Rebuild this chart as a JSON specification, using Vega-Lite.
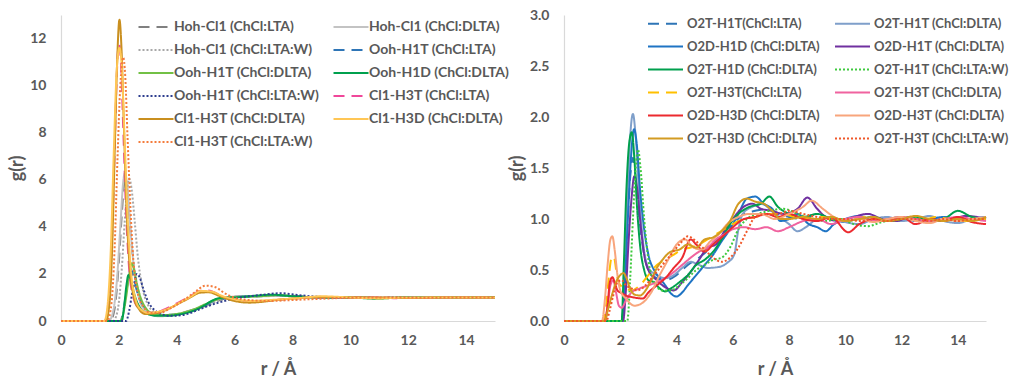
{
  "$schema": "https://vega.github.io/schema/vega-lite/v6.json",
  "padding": {"left": 8, "top": 8, "right": 0, "bottom": 0},
  "config": {
    "view": {"stroke": null},
    "font": "Lato",
    "axis": {"domainColor": "#d9d9d9", "domainWidth": 1.2, "ticks": false, "grid": false,
      "labelFont": "Lato", "labelFontWeight": "bold", "labelFontSize": 14, "labelColor": "#595959",
      "titleFont": "Lato", "titleFontWeight": "bold", "titleFontSize": 18, "titleColor": "#595959"},
    "axisX": {"labelPadding": 12, "titlePadding": 13, "labelFlush": false},
    "axisY": {"labelPadding": 15, "titlePadding": 3},
    "legend": {"orient": "none", "columns": 2, "direction": "horizontal", "title": null, "labelFont": "Lato", "labelFontWeight": "bold",
      "labelFontSize": 14, "labelColor": "#595959", "symbolType": "M-3.5,0H3.5", "symbolSize": 100,
      "symbolStrokeWidth": 2, "labelOffset": 11, "rowPadding": 9, "columnPadding": 9, "labelLimit": 300}
  },
  "datasets": {
    "names": [
      {"s": "l1", "name": "Hoh-Cl1 (ChCl:LTA)"}, {"s": "l2", "name": "Hoh-Cl1 (ChCl:DLTA)"},
      {"s": "l3", "name": "Hoh-Cl1 (ChCl:LTA:W)"}, {"s": "l4", "name": "Ooh-H1T (ChCl:LTA)"},
      {"s": "l5", "name": "Ooh-H1T (ChCl:DLTA)"}, {"s": "l6", "name": "Ooh-H1D (ChCl:DLTA)"},
      {"s": "l7", "name": "Ooh-H1T (ChCl:LTA:W)"}, {"s": "l8", "name": "Cl1-H3T (ChCl:LTA)"},
      {"s": "l9", "name": "Cl1-H3T (ChCl:DLTA)"}, {"s": "l10", "name": "Cl1-H3D (ChCl:DLTA)"},
      {"s": "l11", "name": "Cl1-H3T (ChCl:LTA:W)"},
      {"s": "r1", "name": "O2T-H1T(ChCl:LTA)"}, {"s": "r2", "name": "O2T-H1T (ChCl:DLTA)"},
      {"s": "r3", "name": "O2D-H1D (ChCl:DLTA)"}, {"s": "r4", "name": "O2D-H1T (ChCl:DLTA)"},
      {"s": "r5", "name": "O2T-H1D (ChCl:DLTA)"}, {"s": "r6", "name": "O2T-H1T (ChCl:LTA:W)"},
      {"s": "r7", "name": "O2T-H3T(ChCl:LTA)"}, {"s": "r8", "name": "O2T-H3T (ChCl:DLTA)"},
      {"s": "r9", "name": "O2D-H3D (ChCl:DLTA)"}, {"s": "r10", "name": "O2D-H3T (ChCl:DLTA)"},
      {"s": "r11", "name": "O2T-H3D (ChCl:DLTA)"}, {"s": "r12", "name": "O2T-H3T (ChCl:LTA:W)"}
    ],
    "left": [
      {"s":"l1","r":0,"g":0},{"s":"l1","r":1.7,"g":0},{"s":"l1","r":1.85,"g":0.5},{"s":"l1","r":2.0,"g":2.5},{"s":"l1","r":2.1,"g":4.5},{"s":"l1","r":2.2,"g":5.9},{"s":"l1","r":2.28,"g":5.6},{"s":"l1","r":2.4,"g":3.8},{"s":"l1","r":2.55,"g":2.0},{"s":"l1","r":2.7,"g":1.0},{"s":"l1","r":2.9,"g":0.5},{"s":"l1","r":3.1,"g":0.3},{"s":"l1","r":3.4,"g":0.22},{"s":"l1","r":3.8,"g":0.25},{"s":"l1","r":4.2,"g":0.35},{"s":"l1","r":4.6,"g":0.5},{"s":"l1","r":5.0,"g":0.65},{"s":"l1","r":5.4,"g":0.85},{"s":"l1","r":5.8,"g":1.0},{"s":"l1","r":6.2,"g":1.05},{"s":"l1","r":6.8,"g":1.05},{"s":"l1","r":7.4,"g":1.08},{"s":"l1","r":8,"g":1.05},{"s":"l1","r":9,"g":1.0},{"s":"l1","r":10,"g":1.0},{"s":"l1","r":11,"g":0.98},{"s":"l1","r":12,"g":1.0},{"s":"l1","r":13,"g":1.0},{"s":"l1","r":14,"g":1.0},{"s":"l1","r":15,"g":1.0},
      {"s":"l2","r":0,"g":0},{"s":"l2","r":1.65,"g":0},{"s":"l2","r":1.8,"g":0.4},{"s":"l2","r":1.95,"g":2.0},{"s":"l2","r":2.05,"g":4.0},{"s":"l2","r":2.15,"g":5.9},{"s":"l2","r":2.21,"g":6.3},{"s":"l2","r":2.3,"g":5.6},{"s":"l2","r":2.42,"g":3.6},{"s":"l2","r":2.55,"g":1.9},{"s":"l2","r":2.7,"g":0.95},{"s":"l2","r":2.9,"g":0.45},{"s":"l2","r":3.1,"g":0.28},{"s":"l2","r":3.4,"g":0.2},{"s":"l2","r":3.8,"g":0.24},{"s":"l2","r":4.2,"g":0.33},{"s":"l2","r":4.6,"g":0.5},{"s":"l2","r":5.0,"g":0.7},{"s":"l2","r":5.4,"g":0.9},{"s":"l2","r":5.8,"g":1.02},{"s":"l2","r":6.3,"g":1.05},{"s":"l2","r":7,"g":1.05},{"s":"l2","r":7.5,"g":1.07},{"s":"l2","r":8,"g":1.05},{"s":"l2","r":9,"g":1.0},{"s":"l2","r":10,"g":1.0},{"s":"l2","r":11,"g":0.99},{"s":"l2","r":12,"g":1.0},{"s":"l2","r":13,"g":1.0},{"s":"l2","r":14,"g":1.0},{"s":"l2","r":15,"g":1.0},
      {"s":"l3","r":0,"g":0},{"s":"l3","r":1.8,"g":0},{"s":"l3","r":1.95,"g":0.4},{"s":"l3","r":2.1,"g":2.2},{"s":"l3","r":2.2,"g":4.2},{"s":"l3","r":2.3,"g":5.7},{"s":"l3","r":2.36,"g":6.05},{"s":"l3","r":2.45,"g":5.5},{"s":"l3","r":2.55,"g":4.2},{"s":"l3","r":2.65,"g":2.8},{"s":"l3","r":2.8,"g":1.5},{"s":"l3","r":3.0,"g":0.7},{"s":"l3","r":3.2,"g":0.4},{"s":"l3","r":3.5,"g":0.25},{"s":"l3","r":3.9,"g":0.25},{"s":"l3","r":4.3,"g":0.35},{"s":"l3","r":4.7,"g":0.5},{"s":"l3","r":5.1,"g":0.68},{"s":"l3","r":5.5,"g":0.88},{"s":"l3","r":5.9,"g":1.0},{"s":"l3","r":6.4,"g":1.05},{"s":"l3","r":7,"g":1.06},{"s":"l3","r":7.6,"g":1.08},{"s":"l3","r":8.2,"g":1.04},{"s":"l3","r":9,"g":1.0},{"s":"l3","r":10,"g":1.0},{"s":"l3","r":11,"g":1.0},{"s":"l3","r":12,"g":1.0},{"s":"l3","r":13,"g":1.0},{"s":"l3","r":14,"g":1.0},{"s":"l3","r":15,"g":1.0},
      {"s":"l4","r":0,"g":0},{"s":"l4","r":2.05,"g":0},{"s":"l4","r":2.15,"g":0.4},{"s":"l4","r":2.25,"g":1.2},{"s":"l4","r":2.35,"g":1.9},{"s":"l4","r":2.42,"g":2.2},{"s":"l4","r":2.5,"g":1.9},{"s":"l4","r":2.62,"g":1.3},{"s":"l4","r":2.8,"g":0.75},{"s":"l4","r":3.0,"g":0.45},{"s":"l4","r":3.3,"g":0.3},{"s":"l4","r":3.7,"g":0.26},{"s":"l4","r":4.1,"g":0.3},{"s":"l4","r":4.5,"g":0.42},{"s":"l4","r":4.9,"g":0.62},{"s":"l4","r":5.3,"g":0.85},{"s":"l4","r":5.7,"g":0.98},{"s":"l4","r":6.2,"g":1.03},{"s":"l4","r":6.8,"g":1.05},{"s":"l4","r":7.4,"g":1.1},{"s":"l4","r":8,"g":1.07},{"s":"l4","r":9,"g":1.0},{"s":"l4","r":10,"g":1.0},{"s":"l4","r":11,"g":0.98},{"s":"l4","r":12,"g":1.0},{"s":"l4","r":13,"g":0.99},{"s":"l4","r":14,"g":1.0},{"s":"l4","r":15,"g":1.0},
      {"s":"l5","r":0,"g":0},{"s":"l5","r":2.05,"g":0},{"s":"l5","r":2.15,"g":0.3},{"s":"l5","r":2.25,"g":1.0},{"s":"l5","r":2.35,"g":1.9},{"s":"l5","r":2.44,"g":2.45},{"s":"l5","r":2.52,"g":2.2},{"s":"l5","r":2.62,"g":1.6},{"s":"l5","r":2.75,"g":1.0},{"s":"l5","r":2.9,"g":0.6},{"s":"l5","r":3.1,"g":0.35},{"s":"l5","r":3.4,"g":0.25},{"s":"l5","r":3.8,"g":0.27},{"s":"l5","r":4.2,"g":0.35},{"s":"l5","r":4.6,"g":0.5},{"s":"l5","r":5.0,"g":0.72},{"s":"l5","r":5.4,"g":0.92},{"s":"l5","r":5.8,"g":1.0},{"s":"l5","r":6.3,"g":1.02},{"s":"l5","r":7,"g":1.06},{"s":"l5","r":7.5,"g":1.1},{"s":"l5","r":8,"g":1.06},{"s":"l5","r":9,"g":1.0},{"s":"l5","r":10,"g":1.02},{"s":"l5","r":11,"g":0.97},{"s":"l5","r":12,"g":1.0},{"s":"l5","r":13,"g":1.0},{"s":"l5","r":14,"g":1.0},{"s":"l5","r":15,"g":1.0},
      {"s":"l6","r":0,"g":0},{"s":"l6","r":2.1,"g":0},{"s":"l6","r":2.18,"g":0.6},{"s":"l6","r":2.26,"g":1.5},{"s":"l6","r":2.33,"g":1.95},{"s":"l6","r":2.42,"g":1.7},{"s":"l6","r":2.52,"g":1.2},{"s":"l6","r":2.65,"g":0.75},{"s":"l6","r":2.8,"g":0.45},{"s":"l6","r":3.0,"g":0.3},{"s":"l6","r":3.3,"g":0.22},{"s":"l6","r":3.7,"g":0.22},{"s":"l6","r":4.1,"g":0.28},{"s":"l6","r":4.5,"g":0.4},{"s":"l6","r":4.9,"g":0.62},{"s":"l6","r":5.2,"g":0.85},{"s":"l6","r":5.5,"g":0.98},{"s":"l6","r":6.0,"g":1.0},{"s":"l6","r":6.5,"g":1.05},{"s":"l6","r":7.0,"g":1.1},{"s":"l6","r":7.3,"g":1.12},{"s":"l6","r":7.8,"g":1.07},{"s":"l6","r":8.5,"g":1.02},{"s":"l6","r":9,"g":1.0},{"s":"l6","r":10,"g":1.0},{"s":"l6","r":10.8,"g":0.95},{"s":"l6","r":11.5,"g":0.98},{"s":"l6","r":12,"g":1.0},{"s":"l6","r":13,"g":1.0},{"s":"l6","r":14,"g":1.0},{"s":"l6","r":15,"g":1.02},
      {"s":"l7","r":0,"g":0},{"s":"l7","r":2.25,"g":0},{"s":"l7","r":2.35,"g":0.4},{"s":"l7","r":2.45,"g":1.1},{"s":"l7","r":2.55,"g":1.7},{"s":"l7","r":2.62,"g":2.0},{"s":"l7","r":2.72,"g":1.85},{"s":"l7","r":2.85,"g":1.35},{"s":"l7","r":3.0,"g":0.85},{"s":"l7","r":3.2,"g":0.5},{"s":"l7","r":3.45,"g":0.3},{"s":"l7","r":3.8,"g":0.22},{"s":"l7","r":4.2,"g":0.25},{"s":"l7","r":4.6,"g":0.4},{"s":"l7","r":5.0,"g":0.6},{"s":"l7","r":5.5,"g":0.8},{"s":"l7","r":6.0,"g":0.95},{"s":"l7","r":6.5,"g":1.05},{"s":"l7","r":7,"g":1.12},{"s":"l7","r":7.6,"g":1.18},{"s":"l7","r":8.2,"g":1.1},{"s":"l7","r":9,"g":1.02},{"s":"l7","r":10,"g":0.98},{"s":"l7","r":11,"g":0.98},{"s":"l7","r":12,"g":1.0},{"s":"l7","r":13,"g":0.98},{"s":"l7","r":14,"g":1.0},{"s":"l7","r":15,"g":1.0},
      {"s":"l8","r":0,"g":0},{"s":"l8","r":1.5,"g":0},{"s":"l8","r":1.65,"g":0.8},{"s":"l8","r":1.75,"g":3.0},{"s":"l8","r":1.85,"g":7.0},{"s":"l8","r":1.93,"g":10.5},{"s":"l8","r":2.0,"g":11.8},{"s":"l8","r":2.07,"g":11.0},{"s":"l8","r":2.15,"g":8.2},{"s":"l8","r":2.25,"g":4.6},{"s":"l8","r":2.35,"g":2.3},{"s":"l8","r":2.5,"g":1.0},{"s":"l8","r":2.7,"g":0.5},{"s":"l8","r":2.9,"g":0.35},{"s":"l8","r":3.2,"g":0.35},{"s":"l8","r":3.6,"g":0.5},{"s":"l8","r":4.0,"g":0.75},{"s":"l8","r":4.4,"g":1.0},{"s":"l8","r":4.8,"g":1.28},{"s":"l8","r":5.1,"g":1.3},{"s":"l8","r":5.4,"g":1.15},{"s":"l8","r":5.8,"g":0.95},{"s":"l8","r":6.2,"g":0.85},{"s":"l8","r":6.6,"g":0.82},{"s":"l8","r":7.0,"g":0.85},{"s":"l8","r":7.5,"g":0.9},{"s":"l8","r":8,"g":0.95},{"s":"l8","r":9,"g":1.0},{"s":"l8","r":10,"g":1.0},{"s":"l8","r":11,"g":1.0},{"s":"l8","r":11.5,"g":0.97},{"s":"l8","r":12,"g":0.98},{"s":"l8","r":13,"g":1.0},{"s":"l8","r":14,"g":1.0},{"s":"l8","r":15,"g":1.0},
      {"s":"l9","r":0,"g":0},{"s":"l9","r":1.55,"g":0},{"s":"l9","r":1.68,"g":0.8},{"s":"l9","r":1.77,"g":3.2},{"s":"l9","r":1.86,"g":7.4},{"s":"l9","r":1.94,"g":11.0},{"s":"l9","r":2.02,"g":12.8},{"s":"l9","r":2.09,"g":11.6},{"s":"l9","r":2.17,"g":8.4},{"s":"l9","r":2.27,"g":4.6},{"s":"l9","r":2.38,"g":2.2},{"s":"l9","r":2.52,"g":1.0},{"s":"l9","r":2.7,"g":0.5},{"s":"l9","r":2.9,"g":0.3},{"s":"l9","r":3.2,"g":0.32},{"s":"l9","r":3.6,"g":0.45},{"s":"l9","r":4.0,"g":0.7},{"s":"l9","r":4.4,"g":0.95},{"s":"l9","r":4.8,"g":1.2},{"s":"l9","r":5.1,"g":1.22},{"s":"l9","r":5.5,"g":1.05},{"s":"l9","r":6.0,"g":0.85},{"s":"l9","r":6.5,"g":0.78},{"s":"l9","r":7.0,"g":0.82},{"s":"l9","r":7.5,"g":0.9},{"s":"l9","r":8,"g":0.95},{"s":"l9","r":9,"g":1.02},{"s":"l9","r":10,"g":1.0},{"s":"l9","r":11,"g":1.0},{"s":"l9","r":12,"g":0.98},{"s":"l9","r":13,"g":1.0},{"s":"l9","r":14,"g":1.0},{"s":"l9","r":15,"g":1.0},
      {"s":"l10","r":0,"g":0},{"s":"l10","r":1.5,"g":0},{"s":"l10","r":1.62,"g":0.8},{"s":"l10","r":1.72,"g":3.0},{"s":"l10","r":1.82,"g":7.0},{"s":"l10","r":1.92,"g":10.5},{"s":"l10","r":2.02,"g":11.6},{"s":"l10","r":2.1,"g":10.8},{"s":"l10","r":2.19,"g":8.0},{"s":"l10","r":2.3,"g":4.5},{"s":"l10","r":2.42,"g":2.1},{"s":"l10","r":2.56,"g":1.0},{"s":"l10","r":2.75,"g":0.5},{"s":"l10","r":3.0,"g":0.35},{"s":"l10","r":3.3,"g":0.38},{"s":"l10","r":3.7,"g":0.52},{"s":"l10","r":4.1,"g":0.78},{"s":"l10","r":4.5,"g":1.05},{"s":"l10","r":4.85,"g":1.28},{"s":"l10","r":5.2,"g":1.25},{"s":"l10","r":5.6,"g":1.05},{"s":"l10","r":6.1,"g":0.9},{"s":"l10","r":6.6,"g":0.85},{"s":"l10","r":7.1,"g":0.88},{"s":"l10","r":7.6,"g":0.92},{"s":"l10","r":8.2,"g":0.97},{"s":"l10","r":9,"g":1.05},{"s":"l10","r":10,"g":1.0},{"s":"l10","r":11,"g":0.96},{"s":"l10","r":12,"g":1.0},{"s":"l10","r":13,"g":1.0},{"s":"l10","r":14,"g":1.0},{"s":"l10","r":15,"g":1.0},
      {"s":"l11","r":0,"g":0},{"s":"l11","r":1.6,"g":0},{"s":"l11","r":1.75,"g":0.8},{"s":"l11","r":1.85,"g":3.0},{"s":"l11","r":1.95,"g":6.8},{"s":"l11","r":2.05,"g":10.0},{"s":"l11","r":2.15,"g":11.2},{"s":"l11","r":2.22,"g":10.4},{"s":"l11","r":2.3,"g":7.8},{"s":"l11","r":2.4,"g":4.8},{"s":"l11","r":2.5,"g":2.6},{"s":"l11","r":2.65,"g":1.2},{"s":"l11","r":2.85,"g":0.6},{"s":"l11","r":3.1,"g":0.35},{"s":"l11","r":3.4,"g":0.35},{"s":"l11","r":3.8,"g":0.55},{"s":"l11","r":4.2,"g":0.85},{"s":"l11","r":4.6,"g":1.2},{"s":"l11","r":5.0,"g":1.5},{"s":"l11","r":5.3,"g":1.45},{"s":"l11","r":5.7,"g":1.15},{"s":"l11","r":6.1,"g":0.95},{"s":"l11","r":6.6,"g":0.88},{"s":"l11","r":7.2,"g":0.85},{"s":"l11","r":7.8,"g":0.88},{"s":"l11","r":8.5,"g":0.92},{"s":"l11","r":9.5,"g":0.97},{"s":"l11","r":10.5,"g":1.0},{"s":"l11","r":11.5,"g":1.0},{"s":"l11","r":12.5,"g":0.98},{"s":"l11","r":13.5,"g":1.0},{"s":"l11","r":15,"g":1.0}
    ],
    "right": [
      {"s":"r1","r":0,"g":0},{"s":"r1","r":2.05,"g":0},{"s":"r1","r":2.15,"g":0.3},{"s":"r1","r":2.25,"g":0.9},{"s":"r1","r":2.35,"g":1.4},{"s":"r1","r":2.45,"g":1.6},{"s":"r1","r":2.55,"g":1.4},{"s":"r1","r":2.7,"g":0.95},{"s":"r1","r":2.85,"g":0.65},{"s":"r1","r":3.0,"g":0.5},{"s":"r1","r":3.3,"g":0.42},{"s":"r1","r":3.6,"g":0.4},{"s":"r1","r":4.0,"g":0.45},{"s":"r1","r":4.4,"g":0.55},{"s":"r1","r":4.8,"g":0.62},{"s":"r1","r":5.2,"g":0.72},{"s":"r1","r":5.6,"g":0.85},{"s":"r1","r":6.0,"g":0.95},{"s":"r1","r":6.4,"g":1.05},{"s":"r1","r":6.8,"g":1.08},{"s":"r1","r":7.2,"g":1.1},{"s":"r1","r":7.6,"g":1.05},{"s":"r1","r":8,"g":1.02},{"s":"r1","r":8.5,"g":1.0},{"s":"r1","r":9,"g":1.05},{"s":"r1","r":9.5,"g":1.0},{"s":"r1","r":10,"g":0.97},{"s":"r1","r":10.5,"g":1.02},{"s":"r1","r":11,"g":1.0},{"s":"r1","r":11.5,"g":0.98},{"s":"r1","r":12,"g":1.02},{"s":"r1","r":12.5,"g":1.0},{"s":"r1","r":13,"g":0.98},{"s":"r1","r":13.5,"g":1.02},{"s":"r1","r":14,"g":1.0},{"s":"r1","r":14.5,"g":1.0},{"s":"r1","r":15,"g":1.02},
      {"s":"r2","r":0,"g":0},{"s":"r2","r":2.05,"g":0},{"s":"r2","r":2.15,"g":0.4},{"s":"r2","r":2.25,"g":1.2},{"s":"r2","r":2.35,"g":1.8},{"s":"r2","r":2.45,"g":2.03},{"s":"r2","r":2.55,"g":1.8},{"s":"r2","r":2.68,"g":1.2},{"s":"r2","r":2.82,"g":0.75},{"s":"r2","r":3.0,"g":0.52},{"s":"r2","r":3.3,"g":0.45},{"s":"r2","r":3.6,"g":0.42},{"s":"r2","r":3.9,"g":0.45},{"s":"r2","r":4.2,"g":0.52},{"s":"r2","r":4.5,"g":0.58},{"s":"r2","r":4.8,"g":0.55},{"s":"r2","r":5.1,"g":0.52},{"s":"r2","r":5.5,"g":0.53},{"s":"r2","r":5.8,"g":0.57},{"s":"r2","r":6.05,"g":0.65},{"s":"r2","r":6.2,"g":0.9},{"s":"r2","r":6.35,"g":1.05},{"s":"r2","r":6.7,"g":1.12},{"s":"r2","r":7.0,"g":1.15},{"s":"r2","r":7.5,"g":1.05},{"s":"r2","r":8,"g":0.95},{"s":"r2","r":8.3,"g":0.88},{"s":"r2","r":8.6,"g":0.92},{"s":"r2","r":9,"g":1.0},{"s":"r2","r":9.5,"g":1.02},{"s":"r2","r":10,"g":0.97},{"s":"r2","r":10.5,"g":0.95},{"s":"r2","r":11,"g":1.0},{"s":"r2","r":11.5,"g":1.02},{"s":"r2","r":12,"g":0.98},{"s":"r2","r":12.5,"g":1.0},{"s":"r2","r":13,"g":1.03},{"s":"r2","r":13.5,"g":0.98},{"s":"r2","r":14,"g":0.96},{"s":"r2","r":14.5,"g":1.0},{"s":"r2","r":15,"g":1.02},
      {"s":"r3","r":0,"g":0},{"s":"r3","r":2.05,"g":0},{"s":"r3","r":2.15,"g":0.3},{"s":"r3","r":2.27,"g":1.0},{"s":"r3","r":2.38,"g":1.6},{"s":"r3","r":2.49,"g":1.88},{"s":"r3","r":2.58,"g":1.75},{"s":"r3","r":2.7,"g":1.3},{"s":"r3","r":2.85,"g":0.9},{"s":"r3","r":3.0,"g":0.65},{"s":"r3","r":3.2,"g":0.5},{"s":"r3","r":3.4,"g":0.42},{"s":"r3","r":3.6,"g":0.35},{"s":"r3","r":3.8,"g":0.27},{"s":"r3","r":4.0,"g":0.24},{"s":"r3","r":4.2,"g":0.28},{"s":"r3","r":4.4,"g":0.35},{"s":"r3","r":4.7,"g":0.45},{"s":"r3","r":5.0,"g":0.55},{"s":"r3","r":5.3,"g":0.65},{"s":"r3","r":5.6,"g":0.78},{"s":"r3","r":5.9,"g":0.9},{"s":"r3","r":6.2,"g":1.05},{"s":"r3","r":6.5,"g":1.2},{"s":"r3","r":6.8,"g":1.22},{"s":"r3","r":7.1,"g":1.15},{"s":"r3","r":7.4,"g":1.1},{"s":"r3","r":7.7,"g":0.98},{"s":"r3","r":8.0,"g":1.0},{"s":"r3","r":8.3,"g":1.05},{"s":"r3","r":8.7,"g":0.95},{"s":"r3","r":9.0,"g":0.92},{"s":"r3","r":9.3,"g":0.88},{"s":"r3","r":9.6,"g":0.95},{"s":"r3","r":10,"g":1.0},{"s":"r3","r":10.5,"g":1.03},{"s":"r3","r":11,"g":0.98},{"s":"r3","r":11.5,"g":1.0},{"s":"r3","r":12,"g":1.02},{"s":"r3","r":12.5,"g":0.98},{"s":"r3","r":13,"g":1.0},{"s":"r3","r":13.5,"g":1.02},{"s":"r3","r":14,"g":0.98},{"s":"r3","r":14.5,"g":1.0},{"s":"r3","r":15,"g":1.02},
      {"s":"r4","r":0,"g":0},{"s":"r4","r":2.1,"g":0},{"s":"r4","r":2.2,"g":0.3},{"s":"r4","r":2.3,"g":0.8},{"s":"r4","r":2.4,"g":1.2},{"s":"r4","r":2.5,"g":1.42},{"s":"r4","r":2.6,"g":1.3},{"s":"r4","r":2.72,"g":0.95},{"s":"r4","r":2.85,"g":0.65},{"s":"r4","r":3.0,"g":0.5},{"s":"r4","r":3.3,"g":0.4},{"s":"r4","r":3.6,"g":0.33},{"s":"r4","r":3.9,"g":0.3},{"s":"r4","r":4.2,"g":0.38},{"s":"r4","r":4.5,"g":0.48},{"s":"r4","r":4.8,"g":0.6},{"s":"r4","r":5.1,"g":0.72},{"s":"r4","r":5.4,"g":0.75},{"s":"r4","r":5.7,"g":0.88},{"s":"r4","r":6.0,"g":1.0},{"s":"r4","r":6.3,"g":1.1},{"s":"r4","r":6.7,"g":1.15},{"s":"r4","r":7.0,"g":1.1},{"s":"r4","r":7.4,"g":1.08},{"s":"r4","r":7.8,"g":1.05},{"s":"r4","r":8.3,"g":1.1},{"s":"r4","r":8.65,"g":1.21},{"s":"r4","r":9.0,"g":1.1},{"s":"r4","r":9.4,"g":1.0},{"s":"r4","r":9.8,"g":0.98},{"s":"r4","r":10.3,"g":1.02},{"s":"r4","r":10.8,"g":1.05},{"s":"r4","r":11.3,"g":1.0},{"s":"r4","r":11.8,"g":0.98},{"s":"r4","r":12.3,"g":1.02},{"s":"r4","r":12.8,"g":1.0},{"s":"r4","r":13.3,"g":0.98},{"s":"r4","r":13.8,"g":1.0},{"s":"r4","r":14.3,"g":1.03},{"s":"r4","r":15,"g":1.0},
      {"s":"r5","r":0,"g":0},{"s":"r5","r":2.05,"g":0},{"s":"r5","r":2.12,"g":0.5},{"s":"r5","r":2.22,"g":1.3},{"s":"r5","r":2.32,"g":1.75},{"s":"r5","r":2.41,"g":1.85},{"s":"r5","r":2.5,"g":1.6},{"s":"r5","r":2.6,"g":1.1},{"s":"r5","r":2.72,"g":0.7},{"s":"r5","r":2.85,"g":0.5},{"s":"r5","r":3.0,"g":0.4},{"s":"r5","r":3.2,"g":0.38},{"s":"r5","r":3.4,"g":0.32},{"s":"r5","r":3.6,"g":0.29},{"s":"r5","r":3.8,"g":0.32},{"s":"r5","r":4.1,"g":0.38},{"s":"r5","r":4.4,"g":0.45},{"s":"r5","r":4.7,"g":0.55},{"s":"r5","r":5.0,"g":0.6},{"s":"r5","r":5.3,"g":0.68},{"s":"r5","r":5.6,"g":0.8},{"s":"r5","r":5.9,"g":0.95},{"s":"r5","r":6.2,"g":1.05},{"s":"r5","r":6.6,"g":1.12},{"s":"r5","r":7.0,"g":1.15},{"s":"r5","r":7.3,"g":1.22},{"s":"r5","r":7.6,"g":1.12},{"s":"r5","r":8,"g":1.05},{"s":"r5","r":8.5,"g":1.02},{"s":"r5","r":9,"g":1.05},{"s":"r5","r":9.5,"g":1.0},{"s":"r5","r":10,"g":0.98},{"s":"r5","r":10.5,"g":1.0},{"s":"r5","r":11,"g":1.02},{"s":"r5","r":11.5,"g":0.98},{"s":"r5","r":12,"g":1.0},{"s":"r5","r":12.5,"g":1.02},{"s":"r5","r":13,"g":0.98},{"s":"r5","r":13.5,"g":1.0},{"s":"r5","r":14,"g":1.08},{"s":"r5","r":14.5,"g":1.02},{"s":"r5","r":15,"g":1.0},
      {"s":"r6","r":0,"g":0},{"s":"r6","r":2.25,"g":0},{"s":"r6","r":2.35,"g":0.4},{"s":"r6","r":2.45,"g":1.0},{"s":"r6","r":2.55,"g":1.5},{"s":"r6","r":2.63,"g":1.68},{"s":"r6","r":2.72,"g":1.5},{"s":"r6","r":2.85,"g":1.0},{"s":"r6","r":3.0,"g":0.6},{"s":"r6","r":3.2,"g":0.38},{"s":"r6","r":3.5,"g":0.3},{"s":"r6","r":3.8,"g":0.3},{"s":"r6","r":4.1,"g":0.35},{"s":"r6","r":4.4,"g":0.42},{"s":"r6","r":4.7,"g":0.5},{"s":"r6","r":5.0,"g":0.55},{"s":"r6","r":5.3,"g":0.6},{"s":"r6","r":5.6,"g":0.62},{"s":"r6","r":5.9,"g":0.72},{"s":"r6","r":6.2,"g":0.9},{"s":"r6","r":6.5,"g":1.0},{"s":"r6","r":6.9,"g":1.05},{"s":"r6","r":7.3,"g":1.08},{"s":"r6","r":7.8,"g":1.1},{"s":"r6","r":8.3,"g":1.05},{"s":"r6","r":8.8,"g":1.0},{"s":"r6","r":9.3,"g":0.98},{"s":"r6","r":9.8,"g":1.0},{"s":"r6","r":10.3,"g":0.95},{"s":"r6","r":10.8,"g":0.93},{"s":"r6","r":11.3,"g":0.97},{"s":"r6","r":11.8,"g":1.0},{"s":"r6","r":12.3,"g":1.02},{"s":"r6","r":12.8,"g":1.0},{"s":"r6","r":13.3,"g":0.98},{"s":"r6","r":13.8,"g":1.0},{"s":"r6","r":14.3,"g":1.0},{"s":"r6","r":15,"g":1.0},
      {"s":"r7","r":0,"g":0},{"s":"r7","r":1.4,"g":0},{"s":"r7","r":1.5,"g":0.15},{"s":"r7","r":1.6,"g":0.45},{"s":"r7","r":1.7,"g":0.63},{"s":"r7","r":1.78,"g":0.62},{"s":"r7","r":1.88,"g":0.45},{"s":"r7","r":2.0,"g":0.35},{"s":"r7","r":2.2,"g":0.32},{"s":"r7","r":2.4,"g":0.3},{"s":"r7","r":2.7,"g":0.35},{"s":"r7","r":3.0,"g":0.45},{"s":"r7","r":3.3,"g":0.55},{"s":"r7","r":3.6,"g":0.6},{"s":"r7","r":3.9,"g":0.65},{"s":"r7","r":4.2,"g":0.7},{"s":"r7","r":4.5,"g":0.72},{"s":"r7","r":4.8,"g":0.75},{"s":"r7","r":5.1,"g":0.8},{"s":"r7","r":5.4,"g":0.85},{"s":"r7","r":5.7,"g":0.9},{"s":"r7","r":6.0,"g":0.95},{"s":"r7","r":6.4,"g":1.0},{"s":"r7","r":6.8,"g":1.02},{"s":"r7","r":7.2,"g":1.05},{"s":"r7","r":7.7,"g":1.05},{"s":"r7","r":8.2,"g":1.02},{"s":"r7","r":8.7,"g":1.0},{"s":"r7","r":9.2,"g":1.02},{"s":"r7","r":9.7,"g":0.98},{"s":"r7","r":10.2,"g":1.0},{"s":"r7","r":10.7,"g":1.02},{"s":"r7","r":11.2,"g":0.98},{"s":"r7","r":11.7,"g":1.0},{"s":"r7","r":12.2,"g":1.0},{"s":"r7","r":12.7,"g":0.98},{"s":"r7","r":13.2,"g":1.02},{"s":"r7","r":13.7,"g":1.0},{"s":"r7","r":14.2,"g":0.98},{"s":"r7","r":15,"g":1.0},
      {"s":"r8","r":0,"g":0},{"s":"r8","r":1.45,"g":0},{"s":"r8","r":1.55,"g":0.15},{"s":"r8","r":1.65,"g":0.35},{"s":"r8","r":1.75,"g":0.4},{"s":"r8","r":1.85,"g":0.28},{"s":"r8","r":1.95,"g":0.15},{"s":"r8","r":2.05,"g":0.13},{"s":"r8","r":2.2,"g":0.2},{"s":"r8","r":2.4,"g":0.28},{"s":"r8","r":2.7,"g":0.32},{"s":"r8","r":3.0,"g":0.35},{"s":"r8","r":3.3,"g":0.38},{"s":"r8","r":3.6,"g":0.42},{"s":"r8","r":3.9,"g":0.48},{"s":"r8","r":4.2,"g":0.55},{"s":"r8","r":4.5,"g":0.62},{"s":"r8","r":4.8,"g":0.68},{"s":"r8","r":5.1,"g":0.72},{"s":"r8","r":5.4,"g":0.8},{"s":"r8","r":5.7,"g":0.85},{"s":"r8","r":6.0,"g":0.9},{"s":"r8","r":6.4,"g":0.92},{"s":"r8","r":6.8,"g":0.9},{"s":"r8","r":7.2,"g":0.92},{"s":"r8","r":7.6,"g":0.88},{"s":"r8","r":8.0,"g":0.92},{"s":"r8","r":8.5,"g":0.98},{"s":"r8","r":9.0,"g":1.0},{"s":"r8","r":9.5,"g":0.95},{"s":"r8","r":10,"g":1.0},{"s":"r8","r":10.5,"g":1.02},{"s":"r8","r":11,"g":0.98},{"s":"r8","r":11.5,"g":1.0},{"s":"r8","r":12,"g":1.02},{"s":"r8","r":12.5,"g":1.0},{"s":"r8","r":13,"g":0.98},{"s":"r8","r":13.5,"g":1.0},{"s":"r8","r":14,"g":1.02},{"s":"r8","r":14.5,"g":1.0},{"s":"r8","r":15,"g":0.98},
      {"s":"r9","r":0,"g":0},{"s":"r9","r":1.45,"g":0},{"s":"r9","r":1.55,"g":0.15},{"s":"r9","r":1.63,"g":0.38},{"s":"r9","r":1.72,"g":0.43},{"s":"r9","r":1.8,"g":0.38},{"s":"r9","r":1.9,"g":0.3},{"s":"r9","r":2.0,"g":0.28},{"s":"r9","r":2.2,"g":0.25},{"s":"r9","r":2.5,"g":0.23},{"s":"r9","r":2.8,"g":0.22},{"s":"r9","r":3.0,"g":0.28},{"s":"r9","r":3.3,"g":0.35},{"s":"r9","r":3.6,"g":0.42},{"s":"r9","r":3.9,"g":0.52},{"s":"r9","r":4.2,"g":0.62},{"s":"r9","r":4.5,"g":0.8},{"s":"r9","r":4.7,"g":0.75},{"s":"r9","r":5.0,"g":0.68},{"s":"r9","r":5.3,"g":0.75},{"s":"r9","r":5.6,"g":0.82},{"s":"r9","r":6.0,"g":0.92},{"s":"r9","r":6.4,"g":1.0},{"s":"r9","r":6.8,"g":1.02},{"s":"r9","r":7.2,"g":1.05},{"s":"r9","r":7.6,"g":1.02},{"s":"r9","r":8.0,"g":1.05},{"s":"r9","r":8.5,"g":1.0},{"s":"r9","r":9.0,"g":0.98},{"s":"r9","r":9.5,"g":1.02},{"s":"r9","r":10.1,"g":0.87},{"s":"r9","r":10.5,"g":0.95},{"s":"r9","r":11,"g":1.0},{"s":"r9","r":11.5,"g":0.98},{"s":"r9","r":12,"g":1.02},{"s":"r9","r":12.5,"g":0.95},{"s":"r9","r":13,"g":1.0},{"s":"r9","r":13.5,"g":0.98},{"s":"r9","r":14,"g":1.02},{"s":"r9","r":14.5,"g":0.97},{"s":"r9","r":15,"g":0.95},
      {"s":"r10","r":0,"g":0},{"s":"r10","r":1.35,"g":0},{"s":"r10","r":1.45,"g":0.2},{"s":"r10","r":1.55,"g":0.55},{"s":"r10","r":1.65,"g":0.8},{"s":"r10","r":1.72,"g":0.83},{"s":"r10","r":1.8,"g":0.7},{"s":"r10","r":1.9,"g":0.45},{"s":"r10","r":2.0,"g":0.3},{"s":"r10","r":2.2,"g":0.22},{"s":"r10","r":2.5,"g":0.15},{"s":"r10","r":2.8,"g":0.18},{"s":"r10","r":3.1,"g":0.28},{"s":"r10","r":3.4,"g":0.45},{"s":"r10","r":3.7,"g":0.6},{"s":"r10","r":4.0,"g":0.75},{"s":"r10","r":4.3,"g":0.8},{"s":"r10","r":4.6,"g":0.72},{"s":"r10","r":4.9,"g":0.7},{"s":"r10","r":5.2,"g":0.78},{"s":"r10","r":5.5,"g":0.85},{"s":"r10","r":5.8,"g":0.95},{"s":"r10","r":6.2,"g":1.02},{"s":"r10","r":6.6,"g":1.05},{"s":"r10","r":7.0,"g":1.05},{"s":"r10","r":7.5,"g":1.0},{"s":"r10","r":8.0,"g":1.05},{"s":"r10","r":8.5,"g":1.12},{"s":"r10","r":8.8,"g":1.18},{"s":"r10","r":9.2,"g":1.1},{"s":"r10","r":9.6,"g":1.02},{"s":"r10","r":10,"g":0.98},{"s":"r10","r":10.5,"g":1.0},{"s":"r10","r":11,"g":0.97},{"s":"r10","r":11.5,"g":1.0},{"s":"r10","r":12,"g":1.02},{"s":"r10","r":12.5,"g":0.98},{"s":"r10","r":13,"g":0.96},{"s":"r10","r":13.5,"g":1.0},{"s":"r10","r":14,"g":0.98},{"s":"r10","r":14.5,"g":1.0},{"s":"r10","r":15,"g":1.02},
      {"s":"r11","r":0,"g":0},{"s":"r11","r":1.45,"g":0},{"s":"r11","r":1.55,"g":0.1},{"s":"r11","r":1.7,"g":0.25},{"s":"r11","r":1.85,"g":0.38},{"s":"r11","r":2.0,"g":0.45},{"s":"r11","r":2.12,"g":0.47},{"s":"r11","r":2.22,"g":0.42},{"s":"r11","r":2.35,"g":0.32},{"s":"r11","r":2.5,"g":0.26},{"s":"r11","r":2.7,"g":0.25},{"s":"r11","r":2.9,"g":0.3},{"s":"r11","r":3.1,"g":0.4},{"s":"r11","r":3.3,"g":0.52},{"s":"r11","r":3.5,"g":0.6},{"s":"r11","r":3.8,"g":0.68},{"s":"r11","r":4.1,"g":0.7},{"s":"r11","r":4.4,"g":0.75},{"s":"r11","r":4.7,"g":0.72},{"s":"r11","r":5.0,"g":0.8},{"s":"r11","r":5.3,"g":0.82},{"s":"r11","r":5.6,"g":0.88},{"s":"r11","r":5.9,"g":0.98},{"s":"r11","r":6.2,"g":1.15},{"s":"r11","r":6.5,"g":1.2},{"s":"r11","r":6.8,"g":1.17},{"s":"r11","r":7.1,"g":1.15},{"s":"r11","r":7.4,"g":1.08},{"s":"r11","r":7.7,"g":1.0},{"s":"r11","r":8.0,"g":1.0},{"s":"r11","r":8.5,"g":1.02},{"s":"r11","r":9.0,"g":1.0},{"s":"r11","r":9.5,"g":1.02},{"s":"r11","r":10,"g":0.98},{"s":"r11","r":10.5,"g":1.0},{"s":"r11","r":11,"g":1.02},{"s":"r11","r":11.5,"g":0.98},{"s":"r11","r":12,"g":1.0},{"s":"r11","r":12.5,"g":1.03},{"s":"r11","r":13,"g":1.0},{"s":"r11","r":13.5,"g":0.98},{"s":"r11","r":14,"g":1.0},{"s":"r11","r":14.5,"g":0.98},{"s":"r11","r":15,"g":1.02},
      {"s":"r12","r":0,"g":0},{"s":"r12","r":1.5,"g":0},{"s":"r12","r":1.62,"g":0.1},{"s":"r12","r":1.75,"g":0.25},{"s":"r12","r":1.9,"g":0.38},{"s":"r12","r":2.05,"g":0.4},{"s":"r12","r":2.2,"g":0.35},{"s":"r12","r":2.4,"g":0.32},{"s":"r12","r":2.6,"g":0.3},{"s":"r12","r":2.9,"g":0.35},{"s":"r12","r":3.2,"g":0.45},{"s":"r12","r":3.5,"g":0.55},{"s":"r12","r":3.8,"g":0.65},{"s":"r12","r":4.1,"g":0.75},{"s":"r12","r":4.4,"g":0.83},{"s":"r12","r":4.7,"g":0.78},{"s":"r12","r":5.0,"g":0.7},{"s":"r12","r":5.3,"g":0.62},{"s":"r12","r":5.6,"g":0.58},{"s":"r12","r":5.9,"g":0.62},{"s":"r12","r":6.2,"g":0.72},{"s":"r12","r":6.5,"g":0.88},{"s":"r12","r":6.8,"g":1.02},{"s":"r12","r":7.2,"g":1.05},{"s":"r12","r":7.6,"g":1.05},{"s":"r12","r":8.0,"g":1.08},{"s":"r12","r":8.5,"g":1.05},{"s":"r12","r":9.0,"g":1.02},{"s":"r12","r":9.5,"g":1.0},{"s":"r12","r":10,"g":1.0},{"s":"r12","r":10.5,"g":0.98},{"s":"r12","r":11,"g":1.0},{"s":"r12","r":11.5,"g":0.98},{"s":"r12","r":12,"g":1.0},{"s":"r12","r":12.5,"g":1.0},{"s":"r12","r":13,"g":0.98},{"s":"r12","r":13.5,"g":1.0},{"s":"r12","r":14,"g":0.98},{"s":"r12","r":14.5,"g":1.0},{"s":"r12","r":15,"g":1.0}
    ]
  },
  "hconcat": [
    {
      "width": 434, "height": 306,
      "data": {"name": "left"},
      "transform": [{"lookup": "s", "from": {"data": {"name": "names"}, "key": "s", "fields": ["name"]}}],
      "mark": {"type": "line", "strokeWidth": 2, "interpolate": "monotone"},
      "encoding": {
        "x": {"field": "r", "type": "quantitative", "title": "r / Å",
          "scale": {"domain": [0, 15], "nice": false},
          "axis": {"values": [0, 2, 4, 6, 8, 10, 12, 14]}},
        "y": {"field": "g", "type": "quantitative", "title": "g(r)",
          "scale": {"domain": [0, 13], "nice": false},
          "axis": {"values": [0, 2, 4, 6, 8, 10, 12]}},
        "color": {"field": "name", "type": "nominal",
          "scale": {"domain": ["Hoh-Cl1 (ChCl:LTA)", "Hoh-Cl1 (ChCl:DLTA)", "Hoh-Cl1 (ChCl:LTA:W)", "Ooh-H1T (ChCl:LTA)", "Ooh-H1T (ChCl:DLTA)", "Ooh-H1D (ChCl:DLTA)", "Ooh-H1T (ChCl:LTA:W)", "Cl1-H3T (ChCl:LTA)", "Cl1-H3T (ChCl:DLTA)", "Cl1-H3D (ChCl:DLTA)", "Cl1-H3T (ChCl:LTA:W)"],
            "range": ["#808080", "#c3c3c3", "#a8a8a8", "#2e75b6", "#72c045", "#00a04e", "#2f3f8f", "#f0479a", "#c98f1f", "#ffc655", "#f47c3c"]},
          "legend": {"legendX": 88, "legendY": 5}},
        "strokeDash": {"field": "name", "type": "nominal",
          "scale": {"domain": ["Hoh-Cl1 (ChCl:LTA)", "Hoh-Cl1 (ChCl:DLTA)", "Hoh-Cl1 (ChCl:LTA:W)", "Ooh-H1T (ChCl:LTA)", "Ooh-H1T (ChCl:DLTA)", "Ooh-H1D (ChCl:DLTA)", "Ooh-H1T (ChCl:LTA:W)", "Cl1-H3T (ChCl:LTA)", "Cl1-H3T (ChCl:DLTA)", "Cl1-H3D (ChCl:DLTA)", "Cl1-H3T (ChCl:LTA:W)"],
            "range": [[11, 7], [1, 0], [2, 2], [11, 7], [1, 0], [1, 0], [2, 2], [11, 7], [1, 0], [1, 0], [2, 2]]},
          "legend": {"legendX": 88, "legendY": 5}}
      }
    },
    {
      "width": 422, "height": 306,
      "data": {"name": "right"},
      "transform": [{"lookup": "s", "from": {"data": {"name": "names"}, "key": "s", "fields": ["name"]}}],
      "mark": {"type": "line", "strokeWidth": 2, "interpolate": "monotone"},
      "encoding": {
        "x": {"field": "r", "type": "quantitative", "title": "r / Å",
          "scale": {"domain": [0, 15], "nice": false},
          "axis": {"values": [0, 2, 4, 6, 8, 10, 12, 14]}},
        "y": {"field": "g", "type": "quantitative", "title": "g(r)",
          "scale": {"domain": [0, 3], "nice": false},
          "axis": {"values": [0, 0.5, 1, 1.5, 2, 2.5, 3], "format": ".1f"}},
        "color": {"field": "name", "type": "nominal",
          "scale": {"domain": ["O2T-H1T(ChCl:LTA)", "O2T-H1T (ChCl:DLTA)", "O2D-H1D (ChCl:DLTA)", "O2D-H1T (ChCl:DLTA)", "O2T-H1D (ChCl:DLTA)", "O2T-H1T (ChCl:LTA:W)", "O2T-H3T(ChCl:LTA)", "O2T-H3T (ChCl:DLTA)", "O2D-H3D (ChCl:DLTA)", "O2D-H3T (ChCl:DLTA)", "O2T-H3D (ChCl:DLTA)", "O2T-H3T (ChCl:LTA:W)"],
            "range": ["#2e75b6", "#7f9fca", "#1f74c4", "#7030a0", "#00a04e", "#3ec93e", "#ffc000", "#f0639f", "#ec2a2f", "#f8a57c", "#d39b22", "#f0582a"]},
          "legend": {"legendX": 95, "legendY": 2, "rowPadding": 9, "labelFontSize": 13, "columnPadding": 11, "labelOffset": 15}},
        "strokeDash": {"field": "name", "type": "nominal",
          "scale": {"domain": ["O2T-H1T(ChCl:LTA)", "O2T-H1T (ChCl:DLTA)", "O2D-H1D (ChCl:DLTA)", "O2D-H1T (ChCl:DLTA)", "O2T-H1D (ChCl:DLTA)", "O2T-H1T (ChCl:LTA:W)", "O2T-H3T(ChCl:LTA)", "O2T-H3T (ChCl:DLTA)", "O2D-H3D (ChCl:DLTA)", "O2D-H3T (ChCl:DLTA)", "O2T-H3D (ChCl:DLTA)", "O2T-H3T (ChCl:LTA:W)"],
            "range": [[11, 7], [1, 0], [1, 0], [1, 0], [1, 0], [2, 2], [11, 7], [1, 0], [1, 0], [1, 0], [1, 0], [2, 2]]},
          "legend": {"legendX": 95, "legendY": 2, "rowPadding": 9, "labelFontSize": 13, "columnPadding": 11, "labelOffset": 15}}
      }
    }
  ],
  "spacing": -1,
  "resolve": {"scale": {"color": "independent", "strokeDash": "independent", "x": "independent", "y": "independent"}, "legend": {"color": "independent", "strokeDash": "independent"}}
}
